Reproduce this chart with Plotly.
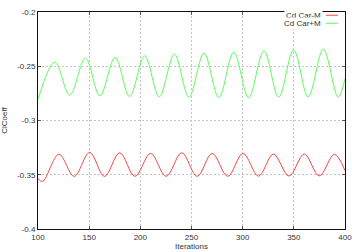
import plotly.graph_objects as go

# Extrema (iteration, coefficient)
minus_iter = [100, 104.5, 120.5, 135.3, 150.5, 165, 179.8, 194.8, 210, 225.2, 240.5, 255.5,
              270.2, 285.4, 300.3, 315.5, 330, 345.3, 360.2, 374.8, 389.6, 400]
minus_val = [-0.3537, -0.3562, -0.3311, -0.3515, -0.3294, -0.3516, -0.3297, -0.3515, -0.3303, -0.3515,
             -0.3297, -0.3515, -0.3303, -0.3515, -0.3303, -0.3513, -0.3309, -0.3512, -0.3309, -0.3511,
             -0.3311, -0.3462]

plus_iter = [100, 116.5, 131, 146.3, 160.5, 175.4, 189.5, 204.2, 218.5, 233.3, 247.5, 262.2,
             276.7, 291.3, 305.8, 320.8, 335.2, 349.8, 364.0, 378.8, 393.3, 400]
plus_val = [-0.2803, -0.2461, -0.2766, -0.2425, -0.2773, -0.2418, -0.2780, -0.2404, -0.2782, -0.2388,
            -0.2785, -0.2379, -0.2788, -0.2370, -0.2790, -0.2358, -0.2785, -0.2349, -0.2782, -0.2343,
            -0.2786, -0.2615]

x_ticks = [100, 150, 200, 250, 300, 350, 400]
y_ticks = [-0.4, -0.35, -0.3, -0.25, -0.2]
y_tick_text = ["-0.4", "-0.35", "-0.3", "-0.25", "-0.2"]

RED = "rgb(255,70,70)"
GREEN = "rgb(90,255,90)"
FONT = "Liberation Sans, Arial, sans-serif"
TXT = "#333"

fig = go.Figure()
fig.add_trace(go.Scatter(x=minus_iter, y=minus_val, mode="lines", name="Cd Car-M",
                         line=dict(color=RED, width=1, shape="spline", smoothing=1.0)))
fig.add_trace(go.Scatter(x=plus_iter, y=plus_val, mode="lines", name="Cd Car+M",
                         line=dict(color=GREEN, width=1, shape="spline", smoothing=1.0)))

axis_common = dict(
    showline=True, linecolor="#111", linewidth=1, mirror="ticks",
    ticks="inside", ticklen=3, tickcolor="#555", tickwidth=1,
    showgrid=True, gridcolor="#c4c4c4", gridwidth=1, griddash="2px,2px",
    zeroline=False, tickfont=dict(family=FONT, size=8, color=TXT),
)

fig.update_layout(
    width=360, height=252,
    margin=dict(l=38, r=13, t=8, b=23),
    paper_bgcolor="white", plot_bgcolor="white",
    showlegend=False,
    xaxis=dict(range=[100, 400], tickvals=x_ticks, ticktext=[str(v) for v in x_ticks], **axis_common),
    yaxis=dict(range=[-0.4, -0.2], tickvals=y_ticks, ticktext=y_tick_text, **axis_common),
    annotations=[
        dict(text="Iterations", xref="paper", yref="paper", x=0.5, y=-0.079, yanchor="middle",
             showarrow=False, font=dict(family=FONT, size=8, color=TXT)),
        dict(text="ClCoeff", xref="paper", x=-0.11, yref="paper", y=0.5, textangle=-90,
             showarrow=False, xanchor="center", font=dict(family=FONT, size=8, color=TXT)),
        dict(text="Cd Car-M", xref="paper", yref="paper", x=0.928, y=0.985, xanchor="right",
             yanchor="middle", showarrow=False, bgcolor="white",
             font=dict(family=FONT, size=8, color=TXT)),
        dict(text="Cd Car+M", xref="paper", yref="paper", x=0.928, y=0.948, xanchor="right",
             yanchor="middle", showarrow=False, bgcolor="white",
             font=dict(family=FONT, size=8, color=TXT)),
    ],
    shapes=[
        dict(type="line", xref="paper", yref="paper", x0=0.938, x1=0.977, y0=0.985, y1=0.985,
             line=dict(color=RED, width=1)),
        dict(type="line", xref="paper", yref="paper", x0=0.938, x1=0.977, y0=0.948, y1=0.948,
             line=dict(color=GREEN, width=1)),
    ],
)

fig.write_html("out.html")
